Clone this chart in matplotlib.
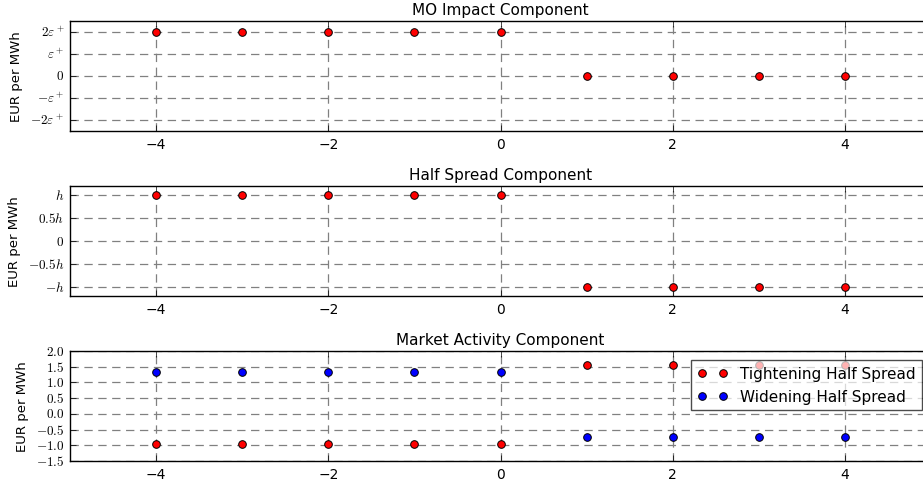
import numpy as np
import matplotlib
matplotlib.use('Agg')
import matplotlib.pyplot as plt

plt.style.use('classic')

# Inventory change (lots) on the x axis
q = [-4, -3, -2, -1, 0, 1, 2, 3, 4]

# MO impact in units of eps+
mo_impact = [2, 2, 2, 2, 2, 0, 0, 0, 0]
# half spread in units of h
half_spread = [1, 1, 1, 1, 1, -1, -1, -1, -1]
# market activity (EUR per MWh)
tightening = [-0.96, -0.96, -0.96, -0.96, -0.96, 1.55, 1.55, 1.55, 1.55]
widening = [1.33, 1.33, 1.33, 1.33, 1.33, -0.74, -0.74, -0.74, -0.74]

mo_ticks = [-2, -1, 0, 1, 2]
mo_labels = [r'$-2\varepsilon^+$', r'$-\varepsilon^+$', r'$0$',
             r'$\varepsilon^+$', r'$2\varepsilon^+$']
hs_ticks = [-1, -0.5, 0, 0.5, 1]
hs_labels = [r'$-h$', r'$-0.5h$', r'$0$', r'$0.5h$', r'$h$']
ma_ticks = [-1.5, -1.0, -0.5, 0.0, 0.5, 1.0, 1.5, 2.0]
ma_labels = [r'$%.1f$' % t for t in ma_ticks]

fig = plt.figure(figsize=(9.23, 4.81), dpi=100, facecolor='white')

left, width, height = 70 / 923, 861 / 923, 110 / 481
ax1 = fig.add_axes([left, 0.7256, width, height])
ax2 = fig.add_axes([left, 0.3825, width, height])
ax3 = fig.add_axes([left, 0.0395, width, height])

mk = dict(ls='none', marker='o', ms=5.5, mec='k', mew=0.7)

ax1.plot(q, mo_impact, color='red', mfc='red', **mk)
ax1.set_ylim(-2.5, 2.5)
ax1.set_yticks(mo_ticks)
ax1.set_yticklabels(mo_labels)
ax1.set_title('MO Impact Component', fontsize=11)

ax2.plot(q, half_spread, color='red', mfc='red', **mk)
ax2.set_ylim(-1.2, 1.2)
ax2.set_yticks(hs_ticks)
ax2.set_yticklabels(hs_labels)
ax2.set_title('Half Spread Component', fontsize=11)

ax3.plot(q, tightening, color='red', mfc='red', label='Tightening Half Spread', **mk)
ax3.plot(q, widening, color='blue', mfc='blue', label='Widening Half Spread', **mk)
ax3.set_ylim(-1.5, 2.0)
ax3.set_yticks(ma_ticks)
ax3.set_yticklabels(ma_labels)
ax3.set_title('Market Activity Component', fontsize=11)
leg = ax3.legend(loc='upper right', numpoints=2, fontsize=11, framealpha=0.7,
                 borderaxespad=0.6)
leg.get_frame().set_linewidth(1.0)

for ax in (ax1, ax2, ax3):
    ax.set_xlim(-5, 5)
    ax.set_xticks([-4, -2, 0, 2, 4])
    ax.set_ylabel('EUR per MWh', fontsize=9.5)
    ax.tick_params(axis='x', labelsize=10)
    ax.tick_params(axis='y', labelsize=9.5)
    ax.grid(True, color='gray', ls='--', lw=0.9, dashes=(6, 4))
    ax.set_axisbelow(True)

fig.savefig('out.png', dpi=100, facecolor='white')
